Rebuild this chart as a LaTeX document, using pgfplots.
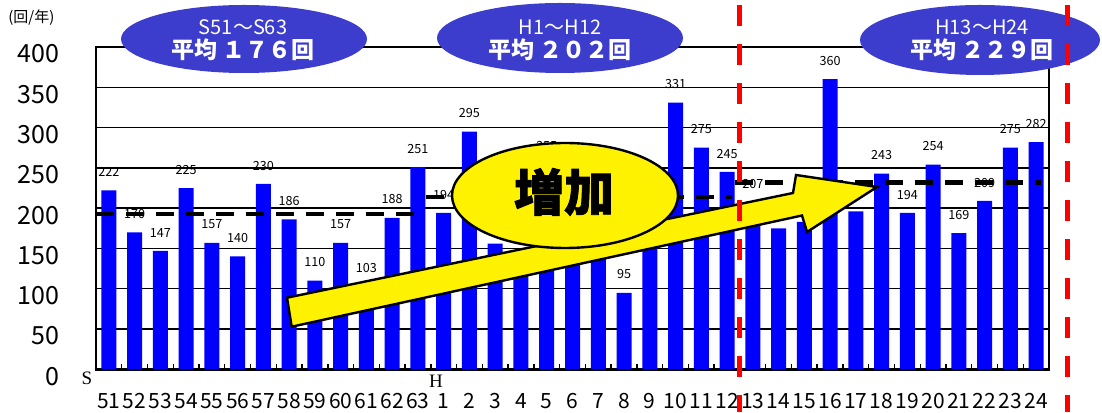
\documentclass[border=0pt]{standalone}
\usepackage{fontspec}
\setmainfont{Noto Sans CJK JP}
\newfontfamily\heavy{Noto Sans CJK JP}[BoldFeatures={FakeBold=1.5}]
\newfontfamily\serif{Liberation Serif}
\usepackage{pgfplots}
\pgfplotsset{compat=1.18}
\definecolor{barblue}{RGB}{0,0,255}
\definecolor{ellblue}{RGB}{60,60,205}
\begin{document}
\begin{tikzpicture}
\path[use as bounding box] (0,0) rectangle (551pt,206pt);
\begin{axis}[
  at={(48pt,21.35pt)}, anchor=south west,
  scale only axis, width=476.5pt, height=161.15pt,
  xmin=-0.5, xmax=36.5, ymin=0, ymax=400,
  ytick={0,50,...,400},
  ymajorgrids, major grid style={black, line width=0.7pt},
  xtick={0,...,36},
  xticklabels={51,52,53,54,55,56,57,58,59,60,61,62,63,1,2,3,4,5,6,7,8,9,10,11,12,13,14,15,16,17,18,19,20,21,22,23,24},
  minor xtick={-0.5,0.5,...,36.5},
  xtick pos=bottom, ytick pos=left,
  major tick length=0pt, minor tick length=2.5pt,
  tick style={black, line width=0.7pt},
  axis line style={black, line width=1.4pt},
  xticklabel style={font=\fontsize{10.5}{12}\selectfont, yshift=-8.5pt},
  yticklabel style={font=\fontsize{12.5}{14}\selectfont, xshift=-15pt, yshift=-3.5pt},
  /pgf/number format/assume math mode=true,
  clip=false,
]
\addplot[ybar, bar width=7.5pt, fill=barblue, draw=none,
  nodes near coords, point meta=explicit symbolic,
  nodes near coords style={font=\fontsize{6.3}{7}\selectfont, black, anchor=south, yshift=3.3pt}]
coordinates {
(0,222) [222] (1,170) [170] (2,147) [147] (3,225) [225] (4,157) [157]
(5,140) [140] (6,230) [230] (7,186) [186] (8,110) [110] (9,157) [157]
(10,103) [103] (11,188) [188] (12,251) [251]
(13,194) [194] (14,295) [295] (15,156) [] (16,126) [] (17,255) [255]
(18,140) [] (19,146) [] (20,95) [95] (21,166) [] (22,331) [331]
(23,275) [275] (24,245) [245]
(25,207) [207] (26,175) [] (27,183) [] (28,360) [360] (29,196) []
(30,243) [243] (31,194) [194] (32,254) [254] (33,169) [169] (34,209) [209]
(35,275) [275] (36,282) [282]
};
\addplot[black, line width=2.2pt, dash pattern=on 9pt off 6pt] coordinates {(-0.5,193) (12,193)};
\addplot[black, line width=2.2pt, dash pattern=on 9pt off 6pt] coordinates {(12.3,214) (24.2,214)};
\addplot[black, line width=2.2pt, dash pattern=on 9pt off 6pt] coordinates {(24.3,232) (36.2,232)};
\end{axis}
\begin{scope}[x=0.5pt,y=-0.5pt,shift={(0pt,206pt)}]
  % big arrow
  \filldraw[fill=yellow, draw=black, line width=1.2pt, line join=miter]
    (287,297.7) -- (793,193) -- (796,175) -- (877,187) -- (807,232) -- (802,215.5) -- (291.7,326.7) -- cycle;
  % yellow ellipse
  \filldraw[fill=yellow, draw=black, line width=1.2pt] (565,195.5) ellipse [x radius=113, y radius=52.5];
  \node[font=\heavy\bfseries\fontsize{25}{25}\selectfont] at (564,192) {増加};
  % blue ellipses
  \fill[ellblue] (244,39) ellipse [x radius=123, y radius=34];
  \node[white, font=\fontsize{10}{11}\selectfont] at (243,27) {S51～S63};
  \node[white, font=\fontsize{11.5}{12}\bfseries\selectfont] at (243,50) {平均 １７６回};
  \fill[ellblue] (560,38) ellipse [x radius=123, y radius=35];
  \node[white, font=\fontsize{10}{11}\selectfont] at (560,27) {H1～H12};
  \node[white, font=\fontsize{11.5}{12}\bfseries\selectfont] at (560,50) {平均 ２０２回};
  \fill[ellblue] (980,40) ellipse [x radius=120, y radius=35];
  \node[white, font=\fontsize{10}{11}\selectfont] at (982,27) {H13～H24};
  \node[white, font=\fontsize{11.5}{12}\bfseries\selectfont] at (982,50) {平均 ２２９回};
  % units
  \node[anchor=west, inner sep=0pt, font=\fontsize{7.5}{8}\selectfont] at (8,18) {(回/年)};
  % era markers
  \node[font=\serif\fontsize{9.5}{10}\selectfont] at (87,378) {S};
  \node[font=\serif\fontsize{9.5}{10}\selectfont] at (436,381) {H};
  % red dashed lines
  \draw[red, line width=2.6pt, dash pattern=on 10.5pt off 9pt] (739.5,5) -- (739.5,412);
  \draw[red, line width=2.6pt, dash pattern=on 10.5pt off 9pt] (1067.5,5) -- (1067.5,412);
\end{scope}
\end{tikzpicture}
\end{document}
